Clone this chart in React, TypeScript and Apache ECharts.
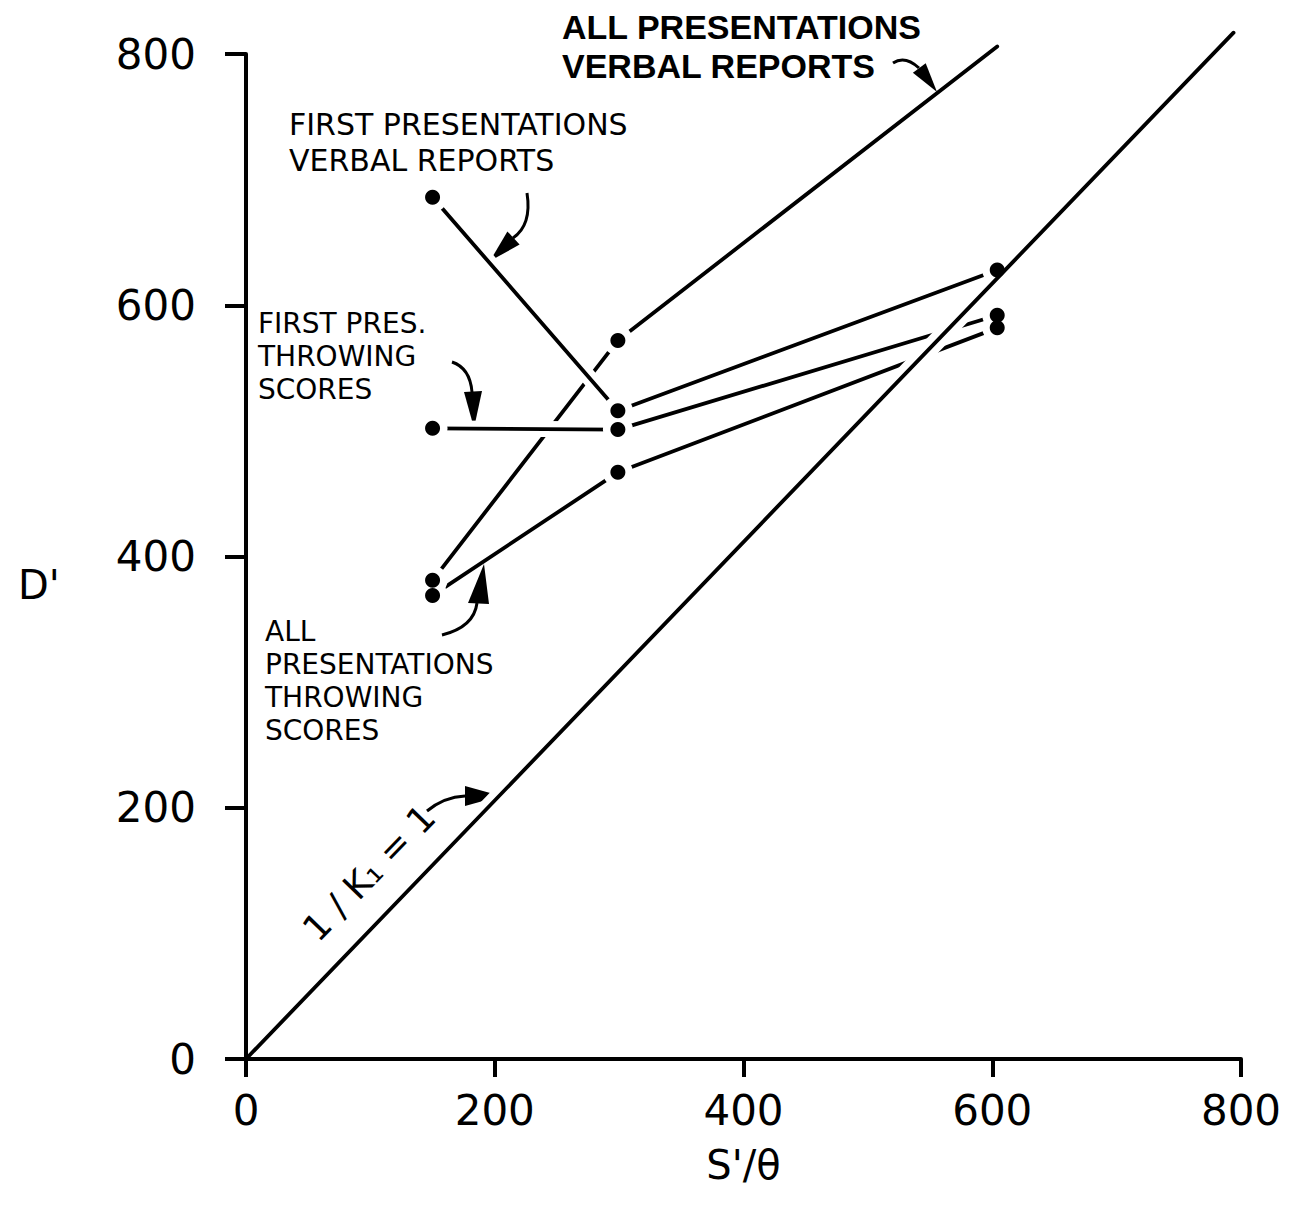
import React, { useEffect, useRef } from "react";
import * as echarts from "echarts";

// S'/θ positions of the three stimulus conditions
const xPositions = [150, 299, 604];
// D' values per curve
const allVerbal = [381, 572, 806];
const firstVerbal = [686, 516, 628];
const firstThrow = [502, 501, 592];
const allThrow = [369, 467, 582];
// 1/K1 = 1 reference line
const diagX = [0, 794];
const diagY = [0, 817];
// axis ticks
const tickValues = [0, 200, 400, 600, 800];

const FONT = "'DejaVu Sans', 'Liberation Sans', sans-serif";
const pts = (ys: number[]) => xPositions.map((x, i) => [x, ys[i]]);

export default function App() {
  const ref = useRef<HTMLDivElement>(null);
  useEffect(() => {
    document.body.style.margin = "0";
    const chart = echarts.init(ref.current!, null, { renderer: "svg" });
    const allPts = [...pts(allVerbal), ...pts(firstVerbal), ...pts(firstThrow), ...pts(allThrow)];
    const lineBase = (name: string, data: number[][], color: string, width: number, z: number) => ({
      name,
      type: "line",
      data,
      symbol: "none",
      showSymbol: false,
      clip: false,
      silent: true,
      z,
      lineStyle: { color, width, cap: "round" },
    });
    const diagData = diagX.map((x, i) => [x, diagY[i]]);
    const block = (
      text: string,
      x: number,
      top: number,
      size: number,
      lineHeight: number,
      weight: any = "normal",
      family = FONT
    ) => ({
      type: "text",
      x,
      y: top,
      silent: true,
      style: {
        text,
        fill: "#000",
        fontSize: size,
        lineHeight,
        fontFamily: family,
        fontWeight: weight,
        verticalAlign: "top",
        align: "left",
      },
    });
    const curve = (x1: number, y1: number, cpx1: number, cpy1: number, x2: number, y2: number) => ({
      type: "bezierCurve",
      silent: true,
      shape: { x1, y1, cpx1, cpy1, x2, y2 },
      style: { stroke: "#000", lineWidth: 3, fill: "none" },
    });
    const head = (points: number[][]) => ({
      type: "polygon",
      silent: true,
      shape: { points },
      style: { fill: "#000" },
    });
    const axisCommon = {
      type: "value",
      min: 0,
      max: 800,
      interval: 200,
      z: 10,
      splitLine: { show: false },
      axisLine: { show: true, onZero: false, lineStyle: { color: "#000", width: 4, cap: "round" } },
      axisTick: { show: true, inside: false, lineStyle: { color: "#000", width: 4 } },
      axisLabel: {
        color: "#000",
        fontSize: 42,
        fontFamily: FONT,
        formatter: (v: number) => (tickValues.includes(v) ? String(v) : ""),
      },
    };
    chart.setOption({
      animation: false,
      backgroundColor: "#fff",
      grid: { left: 246, right: 66, top: 54, bottom: 154 },
      xAxis: {
        ...axisCommon,
        axisTick: { ...axisCommon.axisTick, length: 18 },
        axisLabel: { ...axisCommon.axisLabel, margin: 30 },
        name: "S'/θ",
        nameLocation: "middle",
        nameGap: 86,
        nameTextStyle: { color: "#000", fontSize: 40, fontFamily: FONT },
      },
      yAxis: {
        ...axisCommon,
        axisTick: { ...axisCommon.axisTick, length: 21 },
        axisLabel: { ...axisCommon.axisLabel, margin: 50 },
      },
      series: [
        lineBase("All presentations, verbal reports", pts(allVerbal), "#000", 3.8, 2),
        lineBase("All presentations, throwing scores", pts(allThrow), "#000", 3.8, 2),
        lineBase("halo1", pts(firstThrow), "#fff", 16, 3),
        lineBase("halo2", pts(firstVerbal), "#fff", 16, 3),
        lineBase("First presentations, throwing scores", pts(firstThrow), "#000", 3.8, 4),
        lineBase("First presentations, verbal reports", pts(firstVerbal), "#000", 3.8, 4),
        {
          name: "dot halo",
          type: "scatter",
          data: allPts,
          symbol: "circle",
          symbolSize: 30,
          silent: true,
          z: 5,
          itemStyle: { color: "#fff", opacity: 1 },
        },
        lineBase("halo3", diagData, "#fff", 18, 6),
        lineBase("1/K1 = 1", diagData, "#000", 3.8, 7),
        {
          name: "points",
          type: "scatter",
          data: allPts,
          symbol: "circle",
          symbolSize: 15,
          silent: true,
          z: 8,
          itemStyle: { color: "#000", opacity: 1 },
        },
      ],
      graphic: [
        block("D'", 18, 564, 40, 42),
        block("ALL PRESENTATIONS\nVERBAL REPORTS", 562, 8, 34, 38.5, "bold", "'Liberation Sans', sans-serif"),
        block("FIRST PRESENTATIONS\nVERBAL REPORTS", 289, 107, 30, 35.5),
        block("FIRST PRES.\nTHROWING\nSCORES", 258, 307, 28, 33),
        block("ALL\nPRESENTATIONS\nTHROWING\nSCORES", 265, 615, 28, 33),
        {
          type: "text",
          x: 369,
          y: 873,
          rotation: (46 * Math.PI) / 180,
          silent: true,
          style: { text: "1 / K₁ = 1", fill: "#000", fontSize: 36, fontFamily: FONT, align: "center", verticalAlign: "middle" },
        },
        curve(893, 63, 905, 55, 919, 68),
        head([[937, 92], [925.7, 63.3], [912.9, 72.7]]),
        curve(527, 193, 532, 225, 513, 238),
        head([[490, 261], [519.6, 244.6], [507.4, 231.4]]),
        curve(452, 362, 470, 368, 472, 392),
        head([[474, 428], [464, 392], [482, 391]]),
        curve(442, 635, 474, 627, 477, 603),
        head([[484, 564], [468, 603], [489, 604]]),
        curve(427, 811, 444, 797, 465, 796),
        head([[501, 796], [465, 786], [465, 806]]),
      ],
    });
    return () => chart.dispose();
  }, []);
  return <div ref={ref} style={{ width: 1307, height: 1213 }} />;
}
